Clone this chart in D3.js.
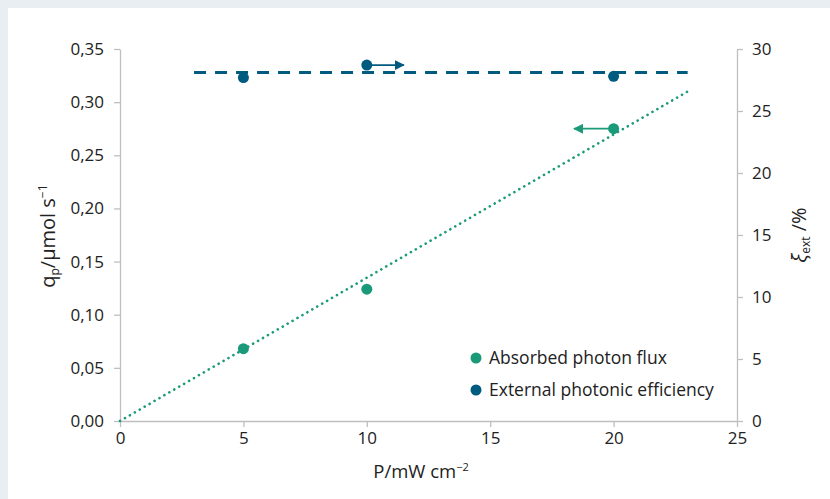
<!DOCTYPE html>
<html>
<head>
<meta charset="utf-8">
<script src="https://cdn.jsdelivr.net/npm/d3@7"></script>
<style>
  body { margin: 0; background: #e9eef2; }
  svg { display: block; }
  text { font-family: "Open Sans", "Noto Sans", sans-serif; fill: #222; }
</style>
</head>
<body>
<div id="chart"></div>
<script>
// data
const power = [5, 10, 20];
const photonFlux = [0.068, 0.124, 0.275];
const efficiency = [27.7, 28.7, 27.8];
const fluxTrend = [[0, 0], [23, 0.31]];
const effTrend = [[3, 28.1], [23, 28.1]];
const xTicks = [0, 5, 10, 15, 20, 25];
const yLeftTicks = [0, 0.05, 0.1, 0.15, 0.2, 0.25, 0.3, 0.35];
const yRightTicks = [0, 5, 10, 15, 20, 25, 30];
const seriesNames = ["Absorbed photon flux", "External photonic efficiency"];

const W = 830, H = 499;
const green = "#1b9a7a", blue = "#005b7e", axisCol = "#bfbfbf";
const margin = { left: 120, right: 93, top: 49, bottom: 78 };

const svg = d3.select("#chart").append("svg")
  .attr("width", W).attr("height", H);

svg.append("rect").attr("x", 8).attr("y", 8)
  .attr("width", W - 8).attr("height", H - 8).attr("fill", "#fff");

const x = d3.scaleLinear().domain([0, 25]).range([margin.left, W - margin.right]);
const yL = d3.scaleLinear().domain([0, 0.35]).range([H - margin.bottom, margin.top]);
const yR = d3.scaleLinear().domain([0, 30]).range([H - margin.bottom, margin.top]);

const fmt = d => d3.format(".2f")(d).replace(".", ",");

function styleAxis(g) {
  g.select(".domain").attr("stroke", axisCol).attr("stroke-width", 1.3);
  g.selectAll(".tick line").attr("stroke", axisCol).attr("stroke-width", 1.3);
  g.selectAll(".tick text").attr("font-size", 17).attr("fill", "#222");
}

svg.append("g")
  .attr("transform", `translate(0,${yL(0)})`)
  .call(d3.axisBottom(x).tickValues(xTicks).tickSize(6).tickPadding(5).tickSizeOuter(0))
  .call(styleAxis);

svg.append("g")
  .attr("transform", `translate(${x(0)},0)`)
  .call(d3.axisLeft(yL).tickValues(yLeftTicks).tickFormat(fmt).tickSize(6).tickPadding(10).tickSizeOuter(0))
  .call(styleAxis);

svg.append("g")
  .attr("transform", `translate(${x(25)},0)`)
  .call(d3.axisRight(yR).tickValues(yRightTicks).tickSize(6).tickPadding(9).tickSizeOuter(0))
  .call(styleAxis);

// axis titles
svg.append("text")
  .attr("x", x(12.2)).attr("y", 478)
  .attr("text-anchor", "middle").attr("font-size", 18.5)
  .html('P/mW cm<tspan dy="-7" font-size="11">−2</tspan>');

svg.append("text")
  .attr("transform", `translate(55,${yL(0.174)}) rotate(-90)`)
  .attr("text-anchor", "middle").attr("font-size", 20)
  .html('q<tspan dy="4" font-size="12">p</tspan><tspan dy="-4">/µmol s</tspan><tspan dy="-8" font-size="12">−1</tspan>');

svg.append("text")
  .attr("transform", `translate(806,${yR(15)}) rotate(-90)`)
  .attr("text-anchor", "middle").attr("font-size", 20)
  .html('<tspan font-style="italic">ξ</tspan><tspan dy="4" font-size="12">ext</tspan><tspan dy="-4"> /%</tspan>');

// trend lines
const lineL = d3.line().x(d => x(d[0])).y(d => yL(d[1]));
const lineR = d3.line().x(d => x(d[0])).y(d => yR(d[1]));

svg.append("path").attr("d", lineL(fluxTrend))
  .attr("fill", "none").attr("stroke", green).attr("stroke-width", 2.6)
  .attr("stroke-dasharray", "0.1 5.6").attr("stroke-linecap", "round");

svg.append("path").attr("d", lineR(effTrend))
  .attr("fill", "none").attr("stroke", blue).attr("stroke-width", 3)
  .attr("stroke-dasharray", "12 9");

// arrows
const defs = svg.append("defs");
[["arrG", green], ["arrB", blue]].forEach(([id, c]) => {
  defs.append("marker").attr("id", id)
    .attr("viewBox", "0 0 10 10").attr("refX", 9).attr("refY", 5)
    .attr("markerWidth", 6).attr("markerHeight", 6).attr("orient", "auto")
    .attr("markerUnits", "strokeWidth")
    .append("path").attr("d", "M0,0L10,5L0,10Z").attr("fill", c);
});

svg.append("line")
  .attr("x1", x(power[1])).attr("y1", yR(efficiency[1]))
  .attr("x2", x(11.5)).attr("y2", yR(efficiency[1]))
  .attr("stroke", blue).attr("stroke-width", 1.7).attr("marker-end", "url(#arrB)");

svg.append("line")
  .attr("x1", x(power[2])).attr("y1", yL(photonFlux[2]))
  .attr("x2", x(18.4)).attr("y2", yL(photonFlux[2]))
  .attr("stroke", green).attr("stroke-width", 1.7).attr("marker-end", "url(#arrG)");

// points
svg.selectAll(".flux").data(power).join("circle")
  .attr("cx", d => x(d)).attr("cy", (d, i) => yL(photonFlux[i]))
  .attr("r", 5.5).attr("fill", green);

svg.selectAll(".eff").data(power).join("circle")
  .attr("cx", d => x(d)).attr("cy", (d, i) => yR(efficiency[i]))
  .attr("r", 5.5).attr("fill", blue);

// legend
const leg = svg.append("g").attr("transform", "translate(476,358)");
seriesNames.forEach((name, i) => {
  const g = leg.append("g").attr("transform", `translate(0,${i * 32})`);
  g.append("circle").attr("r", 5.5).attr("fill", i === 0 ? green : blue);
  g.append("text").attr("x", 13).attr("dy", "0.35em").attr("font-size", 17.5).text(name);
});
</script>
</body>
</html>
